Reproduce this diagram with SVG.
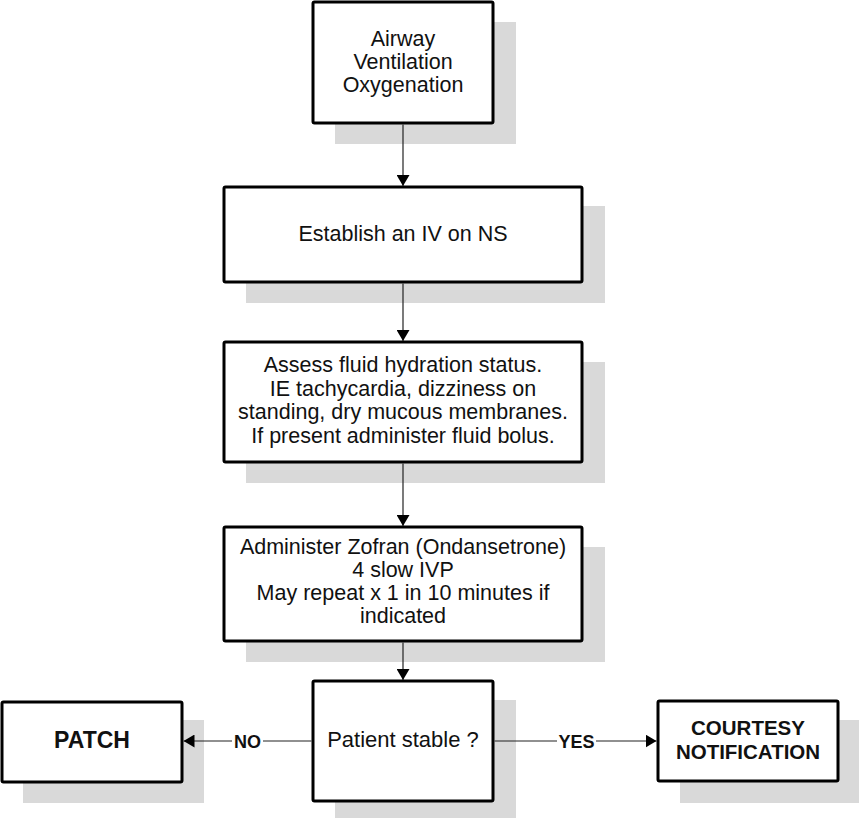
<svg xmlns="http://www.w3.org/2000/svg" width="859" height="820" viewBox="0 0 859 820">
  <defs>
    <marker id="arrow" viewBox="0 0 11 13" refX="11" refY="6.5" markerWidth="11" markerHeight="13" markerUnits="userSpaceOnUse" orient="auto">
      <path d="M0,0 L11,6.5 L0,13 Z" fill="#000"/>
    </marker>
    <style>
      .shadow { fill: #d9d9d9; }
      .box { fill: #ffffff; stroke: #000; stroke-width: 3; }
      .txt { font-family: "Liberation Sans", Arial, sans-serif; font-size: 21.5px; fill: #111; text-anchor: middle; }
      .bold { font-family: "Liberation Sans", Arial, sans-serif; font-weight: bold; fill: #111; text-anchor: middle; }
      .conn { stroke: #222; stroke-width: 1.2; fill: none; }
      .lbl { font-family: "Liberation Sans", Arial, sans-serif; font-weight: bold; font-size: 18px; fill: #111; text-anchor: middle; }
    </style>
  </defs>
  <rect width="859" height="820" fill="#ffffff"/>

  <g id="airway">
    <rect class="shadow" x="335" y="22" width="181" height="122"/>
    <rect class="box" x="313" y="2" width="180" height="121" rx="1.5"/>
    <text class="txt" x="403" y="46">Airway</text>
    <text class="txt" x="403" y="69">Ventilation</text>
    <text class="txt" x="403" y="92">Oxygenation</text>
  </g>

  <g id="establish-iv">
    <rect class="shadow" x="246" y="206" width="359" height="97"/>
    <rect class="box" x="224" y="187" width="358" height="95" rx="1.5"/>
    <text class="txt" x="403" y="241">Establish an IV on NS</text>
  </g>

  <g id="assess-hydration">
    <rect class="shadow" x="246" y="362" width="359" height="121"/>
    <rect class="box" x="224" y="342" width="358" height="120" rx="1.5"/>
    <text class="txt" x="403" y="372">Assess fluid hydration status.</text>
    <text class="txt" x="403" y="395.5">IE tachycardia, dizziness on</text>
    <text class="txt" x="403" y="419">standing, dry mucous membranes.</text>
    <text class="txt" x="403" y="443">If present administer fluid bolus.</text>
  </g>

  <g id="administer-zofran">
    <rect class="shadow" x="246" y="547" width="359" height="115"/>
    <rect class="box" x="224" y="527" width="358" height="114" rx="1.5"/>
    <text class="txt" x="403" y="554">Administer Zofran (Ondansetrone)</text>
    <text class="txt" x="403" y="577">4 slow IVP</text>
    <text class="txt" x="403" y="600">May repeat x 1 in 10 minutes if</text>
    <text class="txt" x="403" y="623">indicated</text>
  </g>

  <g id="patient-stable">
    <rect class="shadow" x="335" y="700" width="181" height="118"/>
    <rect class="box" x="313" y="681" width="180" height="120" rx="1.5"/>
    <text class="txt" x="403" y="747" style="font-size:22px">Patient stable ?</text>
  </g>

  <g id="patch">
    <rect class="shadow" x="23" y="720" width="181" height="83"/>
    <rect class="box" x="2" y="702" width="180" height="80" rx="1.5"/>
    <text class="bold" x="92" y="748" style="font-size:23px">PATCH</text>
  </g>

  <g id="courtesy-notification">
    <rect class="shadow" x="680" y="720" width="179" height="83"/>
    <rect class="box" x="658" y="701" width="180" height="80" rx="1.5"/>
    <text class="bold" x="748" y="735" style="font-size:20.5px">COURTESY</text>
    <text class="bold" x="748" y="759" style="font-size:20.5px">NOTIFICATION</text>
  </g>

  <!-- connectors, drawn over the drop shadows -->
  <g id="connectors">
    <line class="conn" x1="403" y1="124.5" x2="403" y2="186" marker-end="url(#arrow)"/>
    <line class="conn" x1="403" y1="283.5" x2="403" y2="341" marker-end="url(#arrow)"/>
    <line class="conn" x1="403" y1="463.5" x2="403" y2="526" marker-end="url(#arrow)"/>
    <line class="conn" x1="403" y1="642.5" x2="403" y2="680" marker-end="url(#arrow)"/>
    <line class="conn" x1="311.5" y1="741" x2="183.5" y2="741" marker-end="url(#arrow)"/>
    <line class="conn" x1="494.5" y1="741" x2="656.5" y2="741" marker-end="url(#arrow)"/>
    <rect x="232" y="732" width="31" height="18" fill="#fff"/>
    <text class="lbl" x="247.5" y="747.5">NO</text>
    <rect x="557" y="732" width="39" height="18" fill="#fff"/>
    <text class="lbl" x="576.5" y="747.5">YES</text>
  </g>
</svg>
